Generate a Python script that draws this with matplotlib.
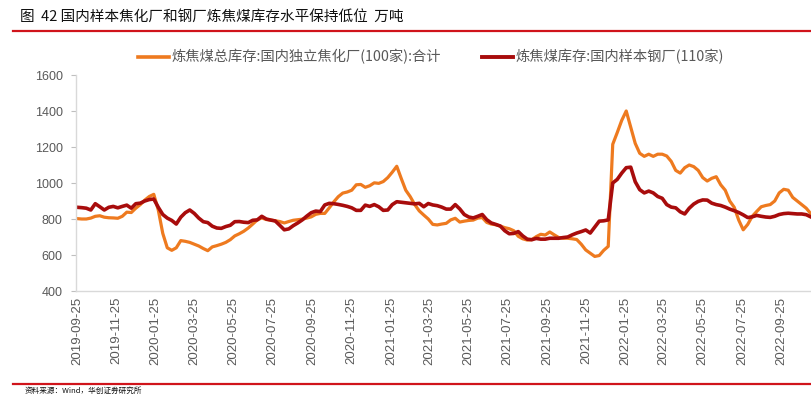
import matplotlib
matplotlib.use("Agg")
import matplotlib.pyplot as plt
from matplotlib.lines import Line2D
import pandas as pd

# ---------------- data ----------------
start_date = "2019-09-25"
n_weeks = 164

coke_plants_100 = [
    802, 800, 800, 805, 815, 818, 810, 807, 806, 804,
    815, 838, 836, 860, 880, 905, 925, 937, 850, 720,
    640, 626, 640, 680, 676, 670, 660, 650, 636, 624,
    645, 652, 660, 670, 685, 706, 718, 732, 750, 772,
    795, 806,
    797, 794, 790, 786, 778, 786, 793, 796, 799, 805,
    812, 826, 831, 831, 862, 895, 924, 944, 950, 960,
    990, 992, 976, 985, 1001, 998, 1008, 1030, 1060, 1093,
    1025, 960, 924, 880, 845, 822, 800, 770, 767, 772,
    776, 795,
    804, 783, 788, 792, 794, 805, 808, 781, 772, 768,
    761, 752, 746, 735, 704, 690, 683, 685, 702, 715,
    711, 728, 712, 697, 693, 693, 690, 686, 660, 628,
    610, 592, 597, 626, 648,
    1215, 1280, 1348, 1400, 1310, 1220, 1165, 1148, 1160, 1148,
    1160, 1160, 1150, 1120, 1070, 1055, 1085, 1100, 1091, 1070,
    1030, 1011, 1026, 1035, 990, 960, 900, 865, 794, 740,
    770, 815, 842, 868, 875, 880, 900, 945, 965, 960,
    920, 900, 880, 860, 830,
]

steel_mills_110 = [
    865, 863, 860, 850, 885, 868, 850, 865, 870, 862,
    870, 877, 860, 885, 888, 900, 908, 911, 865, 825,
    805, 792, 772, 810, 835, 850, 831, 805, 785, 780,
    760, 750, 748, 758, 765, 785, 786, 782, 780, 793,
    795, 815,
    800, 794, 789, 765, 740, 745, 763, 778, 795, 816,
    835, 844, 841, 878, 887, 885, 881, 876, 870, 862,
    848, 848, 877, 870, 880, 868, 848, 850, 880, 896,
    893, 890, 887, 884, 887, 868, 886, 878, 874, 866,
    855, 855,
    880, 856, 825, 811, 806, 815, 825, 796, 778, 770,
    761, 735, 718, 720, 730, 706, 688, 685, 692, 688,
    688, 693, 693, 693, 697, 700, 712, 722, 730, 739,
    722, 755, 788, 790, 795,
    1000, 1020, 1055, 1085, 1088, 1007, 963, 945, 955, 945,
    925, 915, 880, 866, 862, 840, 828, 860, 883, 898,
    906, 905, 888, 880, 875, 866, 855, 846, 836, 823,
    808, 812, 820, 815, 811, 809, 815, 825, 830, 832,
    830, 828, 828, 824, 812,
]

series_names = ["炼焦煤总库存:国内独立焦化厂(100家):合计", "炼焦煤库存:国内样本钢厂(110家)"]
title_text = "图  42 国内样本焦化厂和钢厂炼焦煤库存水平保持低位  万吨"
source_text = "资料来源：Wind，华创证券研究所"
y_ticks = [400, 600, 800, 1000, 1200, 1400, 1600]
x_tick_labels = ["2019-09-25", "2019-11-25", "2020-01-25", "2020-03-25", "2020-05-25",
                 "2020-07-25", "2020-09-25", "2020-11-25", "2021-01-25", "2021-03-25",
                 "2021-05-25", "2021-07-25", "2021-09-25", "2021-11-25", "2022-01-25",
                 "2022-03-25", "2022-05-25", "2022-07-25", "2022-09-25"]

# ---------------- plot ----------------
W, H = 812, 394
fig = plt.figure(figsize=(W / 100, H / 100), dpi=100)
fig.patch.set_facecolor("white")

dates = pd.date_range(start_date, periods=n_weeks, freq="7D")
c_orange = "#EE7A1F"
c_red = "#A80C0C"
gray = "#595959"
cjk = ["Noto Sans CJK SC", "DejaVu Sans"]

ax = fig.add_axes([76 / W, 1 - 291 / H, (W - 76) / W, (291 - 75) / H])
ax.plot(dates, coke_plants_100, color=c_orange, lw=2.3, solid_joinstyle="round")
ax.plot(dates, steel_mills_110, color=c_red, lw=2.6, solid_joinstyle="round")

ax.set_ylim(400, 1600)
ax.set_yticks(y_ticks)
ax.set_yticklabels([str(v) for v in y_ticks])
ax.set_xlim(dates[0] - pd.Timedelta(days=2), dates[-1] + pd.Timedelta(days=2))
tick_dates = pd.to_datetime(x_tick_labels)
ax.set_xticks(tick_dates)
ax.set_xticklabels(x_tick_labels, rotation=90)

for s in ["top", "right"]:
    ax.spines[s].set_visible(False)
for s in ["left", "bottom"]:
    ax.spines[s].set_color("#D9D9D9")
    ax.spines[s].set_linewidth(1.0)

ax.tick_params(axis="y", length=3.6, width=0.8, color="#BFBFBF", pad=6,
               labelsize=9, labelcolor=gray)
ax.tick_params(axis="x", length=0, pad=4, labelsize=9.5, labelcolor=gray)
for lab in ax.get_xticklabels() + ax.get_yticklabels():
    lab.set_fontfamily(["Liberation Sans", "DejaVu Sans"])

# legend
handles = [Line2D([], [], color=c_orange, lw=2.6), Line2D([], [], color=c_red, lw=2.8)]
leg = fig.legend(handles, series_names, loc="center", bbox_to_anchor=(431 / W, 1 - 57 / H),
                 ncol=2, frameon=False, handlelength=2.2, handletextpad=0.2,
                 columnspacing=2.8, prop={"family": cjk, "size": 10.3})
for t in leg.get_texts():
    t.set_color(gray)

# title and rules
fig.text(20 / W, 1 - 17 / H, title_text, ha="left", va="center", fontsize=10.5,
         family=cjk, color="#111111")
fig.add_artist(Line2D([13 / W, 1], [1 - 31 / H, 1 - 31 / H], color="#D0141B", lw=1.6))
fig.add_artist(Line2D([13 / W, 1], [1 - 384 / H, 1 - 384 / H], color="#D0141B", lw=1.6))
fig.text(25 / W, 1 - 386.5 / H, source_text, ha="left", va="top", fontsize=5.5,
         family=cjk, color="#111111")

fig.savefig("out.png", dpi=100, facecolor="white")
